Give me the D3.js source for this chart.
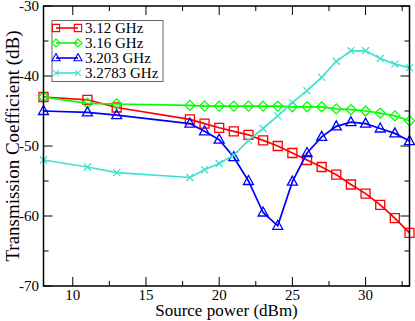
<!DOCTYPE html>
<html>
<head>
<meta charset="utf-8">
<script src="https://cdn.jsdelivr.net/npm/d3@7"></script>
<style>
  body { margin: 0; background: #fff; }
  text { font-family: "Liberation Serif", "DejaVu Serif", serif; }
</style>
</head>
<body>
<div id="chart"></div>
<script>
var power = [8, 11, 13, 18, 19, 20, 21, 22, 23, 24, 25, 26, 27, 28, 29, 30, 31, 32, 33];
var s312 = [-43.0, -43.4, -44.5, -46.2, -46.8, -47.4, -47.9, -48.4, -49.2, -50.0, -51.0, -52.0, -53.0, -54.1, -55.5, -56.8, -58.4, -60.3, -62.4];
var s316 = [-43.0, -43.9, -44.0, -44.2, -44.3, -44.3, -44.3, -44.3, -44.3, -44.3, -44.4, -44.4, -44.4, -44.7, -44.8, -45.0, -45.3, -45.7, -46.4];
var s3203 = [-45.0, -45.2, -45.6, -46.8, -47.9, -49.1, -51.6, -55.0, -59.5, -61.4, -55.1, -51.0, -48.7, -47.2, -46.6, -46.8, -47.5, -48.2, -49.3];
var s32783 = [-52.0, -53.0, -53.8, -54.5, -53.4, -52.5, -51.3, -49.2, -47.5, -45.7, -43.8, -42.1, -40.2, -37.9, -36.4, -36.4, -37.5, -38.3, -38.8];
var seriesNames = ['3.12 GHz', '3.16 GHz', '3.203 GHz', '3.2783 GHz'];
var xTicks = [10, 15, 20, 25, 30];
var yTicks = [-70, -60, -50, -40, -30];

var width = 415, height = 321;
var pl = 43.5, pr = 409.5, pt = 6, pb = 286;

var svg = d3.select('#chart').append('svg')
    .attr('width', width)
    .attr('height', height);

var x = d3.scaleLinear().domain([8, 33]).range([pl, pr]);
var y = d3.scaleLinear().domain([-70, -30]).range([pb, pt]);

var series = [
    {name: seriesNames[0], values: s312, color: '#ff0000', marker: 'square'},
    {name: seriesNames[1], values: s316, color: '#00ff00', marker: 'diamond'},
    {name: seriesNames[2], values: s3203, color: '#0000ff', marker: 'triangle'},
    {name: seriesNames[3], values: s32783, color: '#40e0d0', marker: 'cross'}
];

function markerPath(type) {
    if (type === 'square') return 'M-4.5,-4.5H4.5V4.5H-4.5Z';
    if (type === 'diamond') return 'M0,-5L5,0L0,5L-5,0Z';
    if (type === 'triangle') return 'M0,-5.5L5,3.5H-5Z';
    return 'M-3.5,-3.5L3.5,3.5M-3.5,3.5L3.5,-3.5';
}

// ticks, inward on all four sides
var minorX = d3.range(12.5, 33, 5);
var minorY = d3.range(-65, -30, 10);
var tk = svg.append('g').attr('stroke', '#000').attr('stroke-width', 1);
xTicks.forEach(function (v) {
    tk.append('line').attr('x1', x(v)).attr('x2', x(v)).attr('y1', pb).attr('y2', pb - 9);
    tk.append('line').attr('x1', x(v)).attr('x2', x(v)).attr('y1', pt).attr('y2', pt + 9);
});
minorX.forEach(function (v) {
    tk.append('line').attr('x1', x(v)).attr('x2', x(v)).attr('y1', pb).attr('y2', pb - 5);
    tk.append('line').attr('x1', x(v)).attr('x2', x(v)).attr('y1', pt).attr('y2', pt + 5);
});
yTicks.forEach(function (v) {
    tk.append('line').attr('y1', y(v)).attr('y2', y(v)).attr('x1', pl).attr('x2', pl + 9);
    tk.append('line').attr('y1', y(v)).attr('y2', y(v)).attr('x1', pr).attr('x2', pr - 9);
});
minorY.forEach(function (v) {
    tk.append('line').attr('y1', y(v)).attr('y2', y(v)).attr('x1', pl).attr('x2', pl + 5);
    tk.append('line').attr('y1', y(v)).attr('y2', y(v)).attr('x1', pr).attr('x2', pr - 5);
});

// tick labels
svg.append('g').selectAll('text')
    .data(xTicks).enter().append('text')
    .attr('x', function (d) { return x(d); })
    .attr('y', 300)
    .attr('text-anchor', 'middle')
    .attr('font-size', 15)
    .text(function (d) { return d; });

svg.append('g').selectAll('text')
    .data(yTicks).enter().append('text')
    .attr('x', 39)
    .attr('y', function (d) { return y(d) + 5; })
    .attr('text-anchor', 'end')
    .attr('font-size', 15)
    .text(function (d) { return d; });

// lines and markers
var line = d3.line()
    .x(function (d, i) { return x(power[i]); })
    .y(function (d) { return y(d); });

series.forEach(function (s) {
    var g = svg.append('g');
    g.append('path')
        .attr('d', line(s.values))
        .attr('fill', 'none')
        .attr('stroke', s.color)
        .attr('stroke-width', 1.7);
    g.selectAll('path.m')
        .data(s.values).enter().append('path')
        .attr('class', 'm')
        .attr('transform', function (d, i) { return 'translate(' + x(power[i]) + ',' + y(d) + ')'; })
        .attr('d', markerPath(s.marker))
        .attr('fill', 'none')
        .attr('stroke', s.color)
        .attr('stroke-width', 1.3);
});

// frame
svg.append('rect')
    .attr('x', pl).attr('y', pt)
    .attr('width', pr - pl).attr('height', pb - pt)
    .attr('fill', 'none')
    .attr('stroke', '#000')
    .attr('stroke-width', 1.5);

// legend
var lg = svg.append('g');
lg.append('rect')
    .attr('x', 52).attr('y', 20.5)
    .attr('width', 111).attr('height', 61)
    .attr('fill', '#fff')
    .attr('stroke', '#666')
    .attr('stroke-width', 1);
series.forEach(function (s, i) {
    var ly = 28 + i * 15;
    lg.append('line')
        .attr('x1', 56).attr('x2', 78).attr('y1', ly).attr('y2', ly)
        .attr('stroke', s.color).attr('stroke-width', 1.6);
    [56, 78].forEach(function (mx) {
        lg.append('path')
            .attr('transform', 'translate(' + mx + ',' + ly + ') scale(0.8)')
            .attr('d', markerPath(s.marker))
            .attr('fill', 'none')
            .attr('stroke', s.color)
            .attr('stroke-width', 1.4);
    });
    lg.append('text')
        .attr('x', 85).attr('y', ly + 5)
        .attr('font-size', 15)
        .text(s.name);
});

// axis titles
svg.append('text')
    .attr('x', (pl + pr) / 2).attr('y', 316)
    .attr('text-anchor', 'middle')
    .attr('font-size', 17)
    .text('Source power (dBm)');

svg.append('text')
    .attr('transform', 'translate(19,' + ((pt + pb) / 2) + ') rotate(-90)')
    .attr('text-anchor', 'middle')
    .attr('font-size', 19)
    .text('Transmission Coefficient (dB)');
</script>
</body>
</html>
